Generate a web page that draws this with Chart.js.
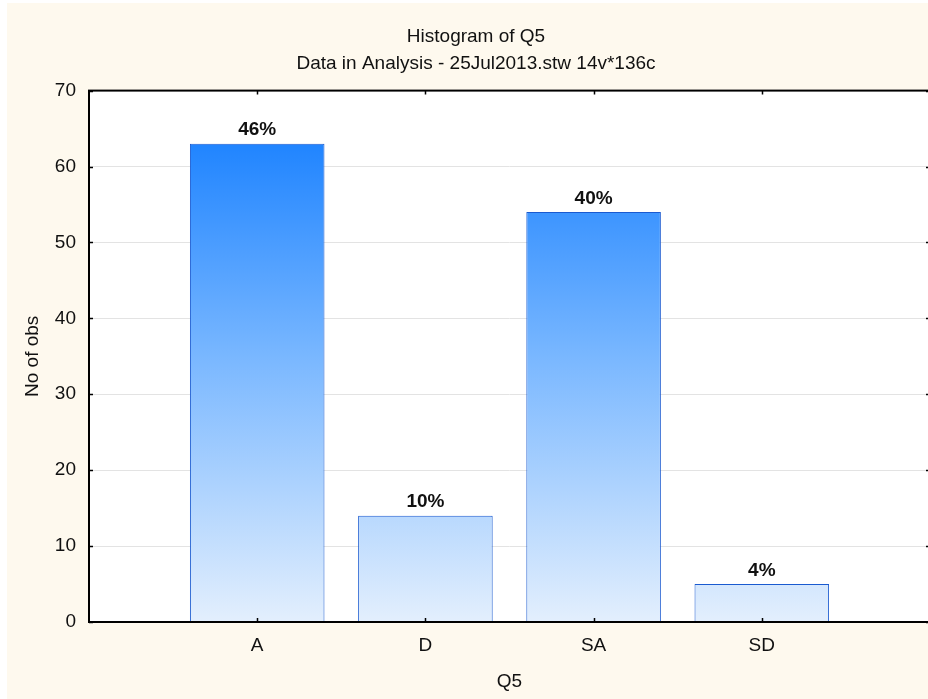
<!DOCTYPE html>
<html>
<head>
<meta charset="utf-8">
<script src="https://cdn.jsdelivr.net/npm/chart.js@4/dist/chart.umd.min.js"></script>
<style>
  html, body { margin: 0; padding: 0; background: #ffffff; overflow: hidden; }
  body { width: 928px; height: 699px; position: relative; }
  #wrap { position: absolute; left: 7px; top: 3px; width: 938px; height: 696px; background: #fef9ee; }
</style>
</head>
<body>
<div id="wrap"><canvas id="chartQ5" width="938" height="696"></canvas></div>
<script>
// ================== DATA ================ //
const CATEGORIES = ["A", "D", "SA", "SD"];
const COUNTS = [63, 14, 54, 5];
const Y_TICKS = [0, 10, 20, 30, 40, 50, 60, 70];

const TITLE_TEXT = "Histogram of Q5";
const SUBTITLE_TEXT = "Data in Analysis - 25Jul2013.stw 14v*136c";
const X_TITLE = "Q5";
const Y_TITLE = "No of obs";

const FONT = "'Liberation Sans', Arial, sans-serif";
const FONT_SIZE = 19;
const TOTAL = COUNTS.reduce((a, b) => a + b, 0);

// empty slots at both ends so the bars sit one step in from the frame
const labels = ["", ...CATEGORIES, ""];
const values = [null, ...COUNTS, null];

let barGradient = null;
function getBarGradient(chart) {
  const area = chart.chartArea;
  if (!area) return "#7fbbfe";
  if (!barGradient || barGradient._top !== area.top || barGradient._bottom !== area.bottom) {
    const g = chart.ctx.createLinearGradient(0, area.top, 0, area.bottom);
    g.addColorStop(0, "#0a78ff");
    g.addColorStop(0.5, "#79b7ff");
    g.addColorStop(1, "#e3effd");
    g._top = area.top;
    g._bottom = area.bottom;
    barGradient = g;
  }
  return barGradient;
}

// white plot background
const plotBgPlugin = {
  id: "plotBg",
  beforeDraw(chart) {
    const { ctx, chartArea: a } = chart;
    ctx.save();
    ctx.fillStyle = "#ffffff";
    ctx.fillRect(a.left, a.top, a.right - a.left, a.bottom - a.top);
    ctx.restore();
  },
};

// frame round the plot with small inward ticks
const framePlugin = {
  id: "frame",
  afterDatasetsDraw(chart) {
    const { ctx, chartArea: a, scales } = chart;
    ctx.save();
    ctx.strokeStyle = "#000";
    ctx.lineWidth = 2;
    ctx.strokeRect(a.left, a.top, a.right - a.left, a.bottom - a.top);

    ctx.lineWidth = 1.5;
    ctx.beginPath();
    Y_TICKS.forEach((v) => {
      const y = Math.round(scales.y.getPixelForValue(v)) + 0.5;
      ctx.moveTo(a.left, y);
      ctx.lineTo(a.left + 4, y);
      ctx.moveTo(a.right, y);
      ctx.lineTo(a.right - 4, y);
    });
    CATEGORIES.forEach((c, i) => {
      const x = Math.round(scales.x.getPixelForValue(i + 1)) + 0.5;
      ctx.moveTo(x, a.bottom);
      ctx.lineTo(x, a.bottom - 4);
      ctx.moveTo(x, a.top);
      ctx.lineTo(x, a.top + 4);
    });
    ctx.stroke();
    ctx.restore();
  },
};

// percentage of all observations above each bar
const percentPlugin = {
  id: "percentLabels",
  afterDatasetsDraw(chart) {
    const { ctx } = chart;
    const meta = chart.getDatasetMeta(0);
    ctx.save();
    ctx.font = "bold " + FONT_SIZE + "px " + FONT;
    ctx.fillStyle = "#111";
    ctx.textAlign = "center";
    ctx.textBaseline = "bottom";
    meta.data.forEach((bar, i) => {
      const v = values[i];
      if (v == null) return;
      const pct = Math.round((v / TOTAL) * 100);
      ctx.fillText(pct + "%", bar.x, bar.y - 4);
    });
    ctx.restore();
  },
};

const textFont = { family: FONT, size: FONT_SIZE, weight: "normal" };

const canvas = document.getElementById("chartQ5");
new Chart(canvas, {
  type: "bar",
  data: {
    labels,
    datasets: [
      {
        label: X_TITLE,
        data: values,
        backgroundColor: (ctx) => getBarGradient(ctx.chart),
        borderColor: "#1a5ad0",
        borderWidth: 1,
        categoryPercentage: 1,
        barPercentage: 0.8,
      },
    ],
  },
  options: {
    responsive: false,
    animation: false,
    layout: { padding: 0 },
    plugins: {
      legend: { display: false },
      tooltip: { enabled: false },
      title: {
        display: true,
        text: TITLE_TEXT,
        color: "#111",
        font: textFont,
        padding: { top: 22, bottom: 0 },
      },
      subtitle: {
        display: true,
        text: SUBTITLE_TEXT,
        color: "#111",
        font: textFont,
        padding: { top: 5, bottom: 15 },
      },
    },
    scales: {
      x: {
        type: "category",
        offset: false,
        grid: { display: false, drawTicks: false },
        border: { display: false },
        ticks: {
          color: "#111",
          font: textFont,
          padding: 12,
          autoSkip: false,
          maxRotation: 0,
        },
        title: {
          display: true,
          text: X_TITLE,
          color: "#111",
          font: textFont,
          padding: { top: 0, bottom: 6 },
        },
        afterFit: (s) => {
          s.height = 77;
          s.paddingLeft = 0;
          s.paddingRight = 0;
        },
      },
      y: {
        min: 0,
        max: 70,
        afterBuildTicks: (s) => { s.ticks = Y_TICKS.map((v) => ({ value: v })); },
        grid: { color: "#e3e3e3", lineWidth: 1, drawTicks: false },
        border: { display: false },
        ticks: {
          color: "#111",
          font: textFont,
          padding: 13,
        },
        title: {
          display: true,
          text: Y_TITLE,
          color: "#111",
          font: textFont,
          padding: { top: 14, bottom: 0 },
        },
        afterFit: (s) => { s.width = 82; },
      },
      // blank strip on the right, keeps the frame's right edge just past the view
      yRight: {
        type: "linear",
        position: "right",
        min: 0,
        max: 70,
        grid: { display: false, drawTicks: false },
        border: { display: false },
        ticks: { display: false },
        afterFit: (s) => { s.width = 15; },
      },
    },
  },
  plugins: [plotBgPlugin, framePlugin, percentPlugin],
});
</script>
</body>
</html>
